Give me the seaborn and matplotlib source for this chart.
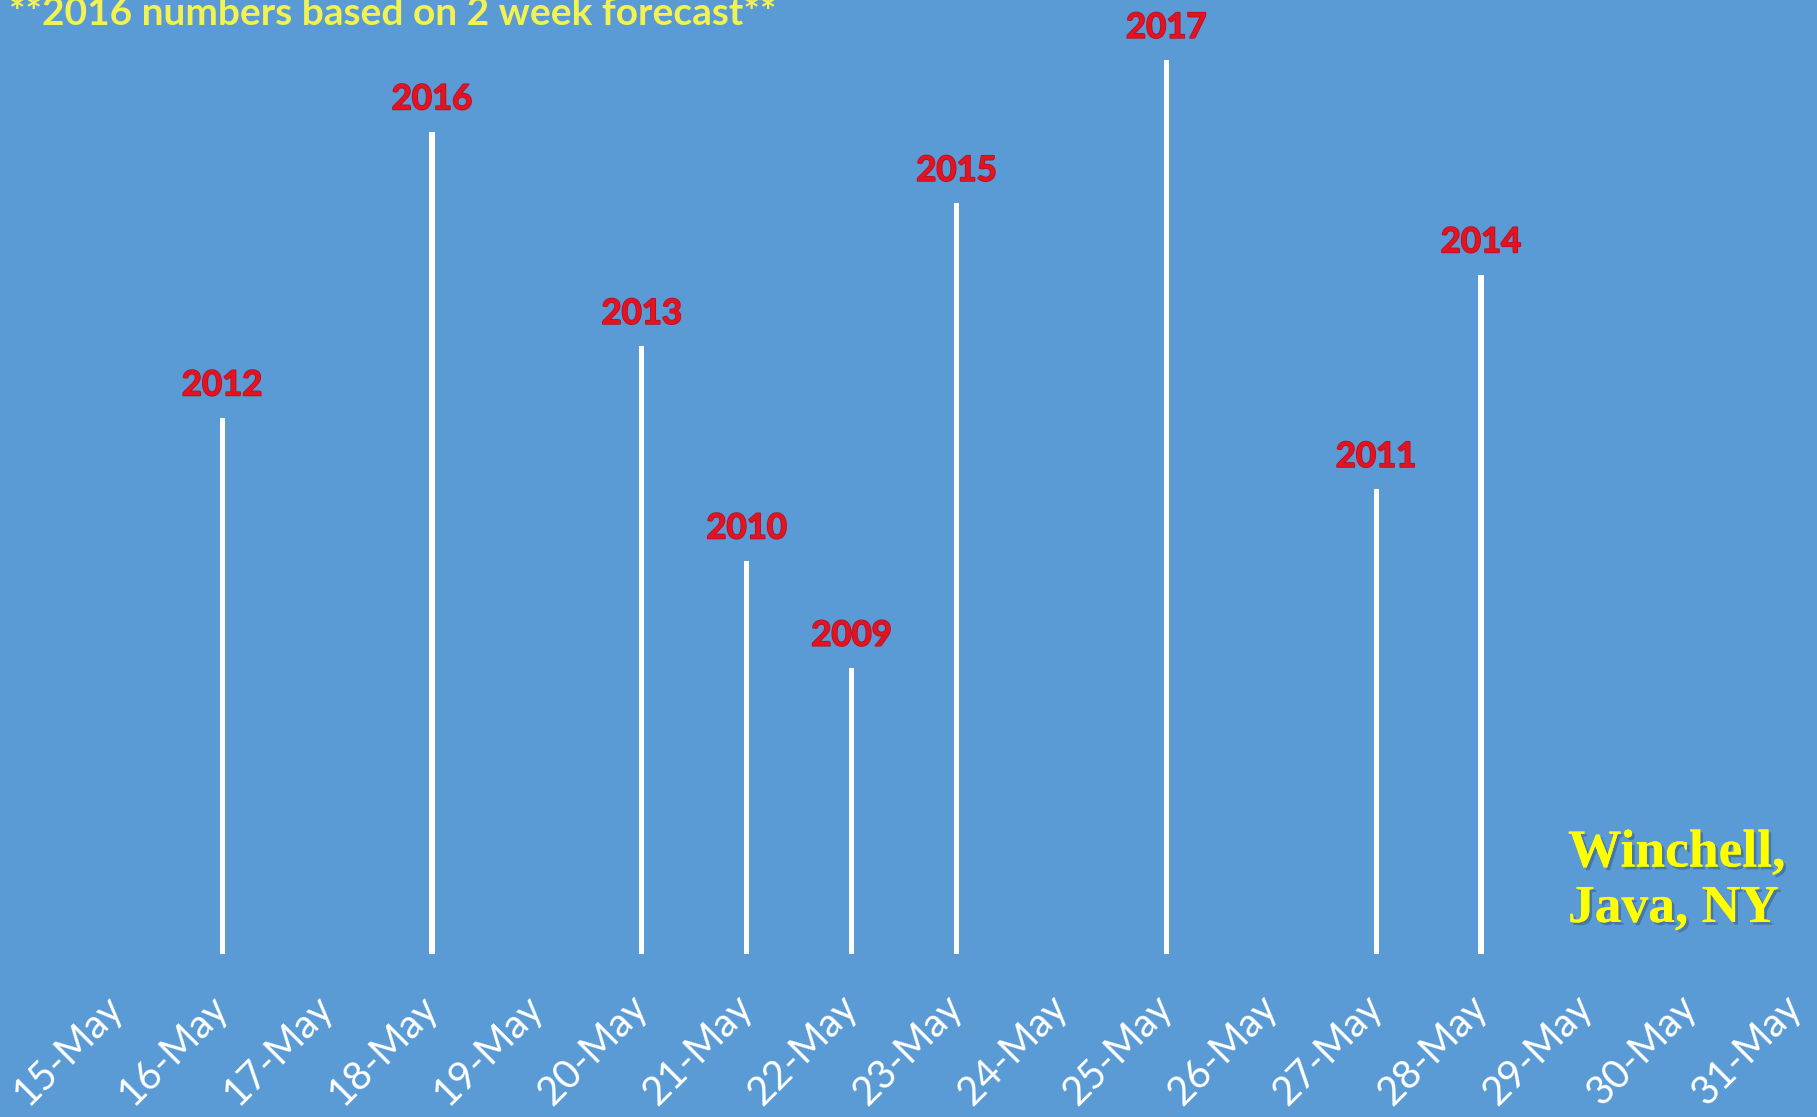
import matplotlib
matplotlib.use("Agg")
import matplotlib.pyplot as plt
import matplotlib.patheffects as pe
import seaborn as sns
import pandas as pd

# Emergence dates (day of May) and their relative heights, one per year
years = ["2012", "2016", "2013", "2010", "2009", "2015", "2017", "2011", "2014"]
days = [16, 18, 20, 21, 22, 23, 25, 27, 28]
heights = [7.5, 11.5, 8.5, 5.5, 4.0, 10.5, 12.5, 6.5, 9.5]

tick_days = list(range(15, 32))
tick_labels = [f"{d}-May" for d in tick_days]

title = "**2016 numbers based on 2 week forecast**"
location = "Winchell,\nJava, NY"

BG = "#5B9BD5"

sns.set_theme(style="white", rc={"axes.facecolor": BG, "figure.facecolor": BG})
plt.rcParams["font.family"] = ["Lato", "DejaVu Sans"]

W, H = 1817, 1117
fig = plt.figure(figsize=(W / 100, H / 100), dpi=100)
ax = fig.add_axes([0, 163 / H, 1, 954 / H])

df = pd.DataFrame({"day": days, "height": heights, "year": years})
sns.barplot(data=df, x="day", y="height", native_scale=True, width=0.048,
            color="white", saturation=1, linewidth=0, ax=ax)

ax.set_xlim(13.882, 31.203)
ax.set_ylim(0, 13.34)
for s in ax.spines.values():
    s.set_visible(False)
ax.set_yticks([])
ax.set_xlabel("")
ax.set_ylabel("")

ax.set_xticks(tick_days)
ax.set_xticklabels(tick_labels, rotation=45, ha="right", va="center",
                   rotation_mode="anchor", color="white", fontsize=28.5)
ax.tick_params(axis="x", length=0, pad=34)

for d, h, y in zip(days, heights, years):
    ax.annotate(y, (d, h), xytext=(0, 16), textcoords="offset points",
                ha="center", va="baseline", color="#E3141F",
                fontsize=25, fontweight="bold",
                path_effects=[pe.withStroke(linewidth=1.2, foreground="#B0102A")])

fig.text(9 / W, 1 - 25 / H, title, ha="left", va="baseline",
         color="#F2F352", fontsize=28, fontweight="bold")

fig.text(1568 / W, 1 - 922 / H, location, ha="left", va="baseline",
         color="#FFFF00", fontsize=38.5, fontweight="bold",
         family=["Liberation Serif", "DejaVu Serif"], linespacing=1.2,
         path_effects=[pe.withSimplePatchShadow(offset=(2, -2), shadow_rgbFace="#1F3550", alpha=0.35),
                       pe.Normal()])

fig.savefig("out.png", dpi=100, facecolor=BG)
